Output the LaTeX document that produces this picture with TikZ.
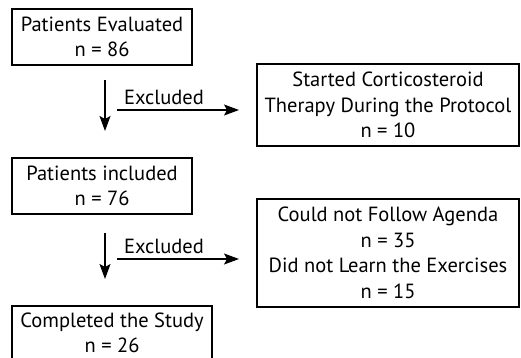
\documentclass[tikz,border=0pt]{standalone}
\usepackage{fontspec}
\setmainfont{PT Sans}
\usetikzlibrary{arrows.meta}
\tikzset{
	stagebox/.style={draw, line width=1.1pt, align=center, inner sep=1pt,
		font=\fontsize{20.5}{25.5}\selectfont},
	flow/.style={line width=1.2pt, -{Stealth[length=15pt, width=11pt, inset=3pt]}}
}
\begin{document}
\begin{tikzpicture}[x=1pt, y=-1pt]
		\useasboundingbox (0, 0) rectangle (521, 358);

		\node[stagebox, minimum width=180pt, minimum height=56pt] (eval) at (102, 37) {Patients Evaluated\\n = 86};
		\node[stagebox, minimum width=262pt, minimum height=82pt] (cortico) at (388, 105) {Started Corticosteroid\\Therapy During the Protocol\\n = 10};
		\node[stagebox, minimum width=180pt, minimum height=56pt] (incl) at (102, 186) {Patients included\\n = 76};
		\node[stagebox, minimum width=262pt, minimum height=108pt] (drop) at (388, 253) {Could not Follow Agenda\\n = 35\\Did not Learn the Exercises\\n = 15};
		\node[stagebox, minimum width=200pt, minimum height=54pt] (done) at (112, 333) {Completed the Study\\n = 26};

		\coordinate (d1a) at (105, 80);
		\coordinate (d1b) at (105, 131);
		\coordinate (e1a) at (117, 110);
		\coordinate (e1b) at (239, 110);
		\coordinate (d2a) at (105, 233);
		\coordinate (d2b) at (105, 279);
		\coordinate (e2a) at (117, 259);
		\coordinate (e2b) at (239, 259);

		\draw[flow] (d1a) -- (d1b);
		\draw[flow] (e1a) -- node[above=1pt, font=\fontsize{20.5}{24}\selectfont, xshift=-14pt] (ex1) {Excluded} (e1b);
		\draw[flow] (d2a) -- (d2b);
		\draw[flow] (e2a) -- node[above=1pt, font=\fontsize{20.5}{24}\selectfont, xshift=-14pt] (ex2) {Excluded} (e2b);

	\end{tikzpicture}
\end{document}
